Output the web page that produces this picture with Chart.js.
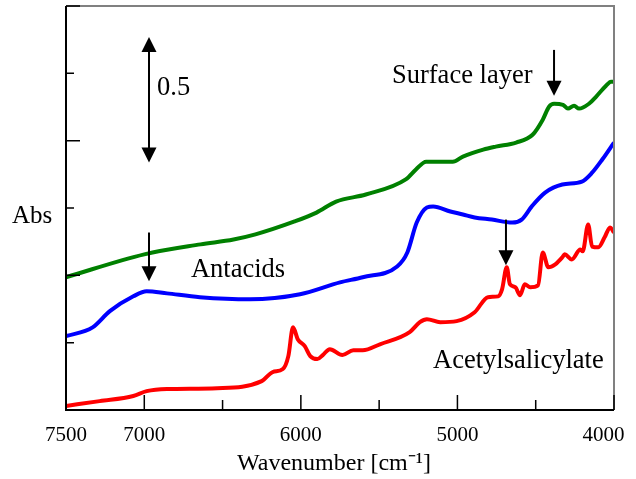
<!DOCTYPE html>
<html>
<head>
<meta charset="utf-8">
<script src="https://cdn.jsdelivr.net/npm/chart.js@4/dist/chart.umd.min.js"></script>
<style>
  body { margin: 0; background: #fff; }
  #wrap { width: 636px; height: 479px; }
</style>
</head>
<body>
<div id="wrap"><canvas id="c" width="636" height="479"></canvas></div>
<script>
// wavenumber [cm-1] / absorbance (offset spectra)
var surfaceWn  = [7500, 7000, 6640, 6430, 6290, 6040, 5900, 5775, 5585, 5330, 5265, 5200, 5120, 5030, 4965, 4835, 4755, 4625, 4520, 4455, 4415, 4383, 4326, 4294, 4255, 4223, 4160, 4115, 4051, 4019, 4000];
var surfaceAbs = [0.493, 0.578, 0.615, 0.633, 0.652, 0.700, 0.733, 0.774, 0.800, 0.856, 0.893, 0.922, 0.922, 0.922, 0.941, 0.967, 0.978, 0.993, 1.022, 1.078, 1.126, 1.137, 1.133, 1.119, 1.130, 1.119, 1.137, 1.163, 1.204, 1.219, 1.219];

var antacidWn  = [7500, 7330, 7220, 7070, 6985, 6855, 6645, 6325, 6005, 5750, 5605, 5385, 5320, 5260, 5195, 5155, 5045, 4965, 4890, 4780, 4650, 4590, 4525, 4440, 4330, 4205, 4140, 4075, 4000];
var antacidAbs = [0.274, 0.307, 0.367, 0.422, 0.441, 0.433, 0.419, 0.411, 0.430, 0.474, 0.493, 0.533, 0.585, 0.696, 0.752, 0.756, 0.737, 0.726, 0.715, 0.707, 0.696, 0.707, 0.756, 0.807, 0.837, 0.848, 0.881, 0.930, 0.993];

var acetylWn  = [7500, 7285, 7070, 6985, 6855, 6535, 6250, 6180, 6115, 6080, 6050, 6020, 5975, 5940, 5895, 5860, 5815, 5735, 5665, 5605, 5495, 5305, 5240, 5195, 5110, 5005, 4890, 4805, 4740, 4715, 4685, 4665, 4630, 4600, 4570, 4535, 4485, 4455, 4420, 4375, 4330, 4315, 4270, 4215, 4200, 4165, 4140, 4100, 4060, 4025, 4000];
var acetylAbs = [0.015, 0.033, 0.052, 0.070, 0.078, 0.081, 0.107, 0.141, 0.152, 0.200, 0.307, 0.263, 0.237, 0.200, 0.189, 0.204, 0.226, 0.204, 0.222, 0.222, 0.244, 0.289, 0.326, 0.337, 0.326, 0.330, 0.363, 0.419, 0.422, 0.448, 0.530, 0.467, 0.456, 0.426, 0.467, 0.456, 0.463, 0.585, 0.530, 0.541, 0.567, 0.578, 0.559, 0.596, 0.589, 0.689, 0.607, 0.604, 0.641, 0.678, 0.659];

var xTicks = [7500, 7000, 6500, 6000, 5500, 5000, 4500, 4000];
var xTickLabels = [7500, 7000, 6000, 5000, 4000];
var yTicks = [0.25, 0.5, 0.75, 1.0, 1.25, 1.5];

var serif = "'Liberation Serif', 'Times New Roman', serif";

function pts(xs, ys) {
    var out = [];
    for (var i = 0; i < xs.length; i++) out.push({x: xs[i], y: ys[i]});
    return out;
}

function arrowHead(ctx, x, y, dir) {
    // filled triangle, tip at (x, y), dir 1 = pointing down, -1 = up
    ctx.beginPath();
    ctx.moveTo(x, y);
    ctx.lineTo(x - 7.5, y - dir * 15);
    ctx.lineTo(x + 7.5, y - dir * 15);
    ctx.closePath();
    ctx.fill();
}

// frame, inward ticks and the text labels
var decor = {
    id: 'decor',
    afterDraw: function (chart) {
        var ctx = chart.ctx;
        var a = chart.chartArea;
        var xs = chart.scales.x, ys = chart.scales.y;
        ctx.save();

        // frame: gray top / right, black left / bottom
        ctx.lineWidth = 2;
        ctx.strokeStyle = '#808080';
        ctx.beginPath();
        ctx.moveTo(a.left, a.top); ctx.lineTo(a.right, a.top); ctx.lineTo(a.right, a.bottom);
        ctx.stroke();
        ctx.strokeStyle = '#000';
        ctx.beginPath();
        ctx.moveTo(a.left, a.top); ctx.lineTo(a.left, a.bottom); ctx.lineTo(a.right, a.bottom);
        ctx.stroke();

        // ticks pointing into the plot
        ctx.lineWidth = 1.5;
        ctx.beginPath();
        xTicks.forEach(function (v) {
            var px = xs.getPixelForValue(v);
            var len = (v % 1000 === 0) ? 15 : 10;
            ctx.moveTo(px, a.bottom); ctx.lineTo(px, a.bottom - len);
        });
        yTicks.forEach(function (v) {
            var py = ys.getPixelForValue(v);
            var len = (Math.round(v * 100) % 50 === 0) ? 14 : 8;
            ctx.moveTo(a.left, py); ctx.lineTo(a.left + len, py);
        });
        ctx.stroke();

        // arrows
        ctx.fillStyle = '#000';
        ctx.lineWidth = 2;
        function vline(wn, y1, y2) {
            var px = xs.getPixelForValue(wn);
            ctx.beginPath();
            ctx.moveTo(px, ys.getPixelForValue(y1));
            ctx.lineTo(px, ys.getPixelForValue(y2));
            ctx.stroke();
            return px;
        }
        // 0.5 scale bar
        var bx = vline(6970, 1.37, 0.935);
        arrowHead(ctx, bx, ys.getPixelForValue(1.385), -1);
        arrowHead(ctx, bx, ys.getPixelForValue(0.919), 1);
        // markers
        var ax = vline(6970, 0.659, 0.49);
        arrowHead(ctx, ax, ys.getPixelForValue(0.478), 1);
        var sx = vline(4383, 1.337, 1.18);
        arrowHead(ctx, sx, ys.getPixelForValue(1.167), 1);
        var cx = vline(4690, 0.707, 0.55);
        arrowHead(ctx, cx, ys.getPixelForValue(0.537), 1);

        // labels
        ctx.font = '26.5px ' + serif;
        ctx.textBaseline = 'alphabetic';
        ctx.textAlign = 'left';
        ctx.fillText('0.5', xs.getPixelForValue(6918), ys.getPixelForValue(1.17));
        ctx.fillText('Antacids', xs.getPixelForValue(6702), ys.getPixelForValue(0.493));
        ctx.fillText('Surface layer', xs.getPixelForValue(5418), ys.getPixelForValue(1.215));
        ctx.fillText('Acetylsalicylate', xs.getPixelForValue(5156), ys.getPixelForValue(0.155));
        ctx.font = '25px ' + serif;
        ctx.fillText('Abs', a.left - 54, ys.getPixelForValue(0.696));

        ctx.restore();
    }
};

function series(xs, ys, color) {
    return {
        data: pts(xs, ys),
        borderColor: color,
        borderWidth: 4,
        pointRadius: 0,
        fill: false,
        cubicInterpolationMode: 'monotone'
    };
}

new Chart(document.getElementById('c'), {
    type: 'line',
    data: {
        datasets: [
            series(surfaceWn, surfaceAbs, '#008000'),
            series(antacidWn, antacidAbs, '#0000ff'),
            series(acetylWn, acetylAbs, '#ff0000')
        ]
    },
    options: {
        responsive: false,
        animation: false,
        layout: { padding: { left: 66, right: 22, top: 6, bottom: 1 } },
        plugins: {
            legend: { display: false },
            tooltip: { enabled: false }
        },
        scales: {
            x: {
                type: 'linear',
                reverse: true,
                min: 4000,
                max: 7500,
                afterFit: function (scale) {
                    // plot edges come from the layout padding only
                    scale.paddingLeft = 0;
                    scale.paddingRight = 0;
                },
                grid: { display: false, drawTicks: false },
                border: { display: false },
                ticks: {
                    stepSize: 500,
                    autoSkip: false,
                    maxRotation: 0,
                    padding: 13,
                    color: '#000',
                    font: { family: serif, size: 21 },
                    callback: function (v) {
                        if (xTickLabels.indexOf(v) < 0) return '';
                        // last label sits a little left of its tick
                        return v === 4000 ? v + '    ' : String(v);
                    }
                },
                title: {
                    display: true,
                    text: 'Wavenumber [cm\u207B\u00B9]  ',
                    color: '#000',
                    font: { family: serif, size: 24 },
                    padding: { top: -12, bottom: 0 }
                }
            },
            y: {
                display: false,
                min: 0,
                max: 1.5
            }
        }
    },
    plugins: [decor]
});
</script>
</body>
</html>
